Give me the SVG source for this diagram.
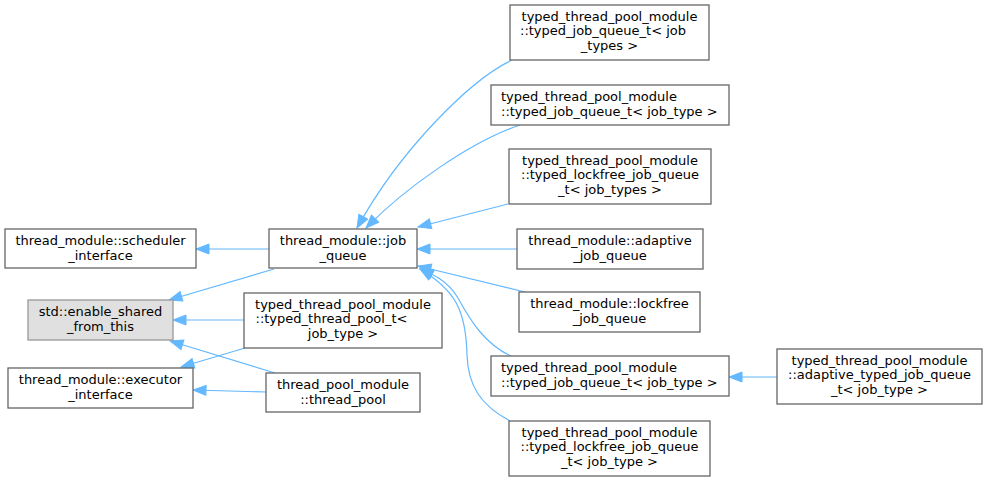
<svg xmlns="http://www.w3.org/2000/svg" width="988" height="481" viewBox="0 0 988 481">
<style>
.n rect{fill:#ffffff;stroke:#666666;stroke-width:1.3}
.n.g rect{fill:#e0e0e0;stroke:#999999}
.n text{font-family:"DejaVu Sans",sans-serif;font-size:13px;fill:#000000;text-anchor:middle}
.n text.l{text-anchor:start}
#edges path{fill:none;stroke:#63b8ff;stroke-width:1.2;marker-end:url(#ah)}
</style>
<defs>
<marker id="ah" markerUnits="userSpaceOnUse" markerWidth="14" markerHeight="12" refX="13" refY="5" orient="auto" overflow="visible">
<path d="M0,0 L13,5 L0,10 z" fill="#63b8ff" stroke="#63b8ff" stroke-width="1"/>
</marker>
</defs>
<rect width="988" height="481" fill="#ffffff"/>
<g id="edges">
<path d="M269,249 L196,249"/>
<path d="M274,269 L169,300"/>
<path d="M244,320 L173,320"/>
<path d="M275,373 L170,341"/>
<path d="M245,348 L181,367"/>
<path d="M266,392 L193,390"/>
<path d="M512,60 C470,80 400,150 357,228"/>
<path d="M520,125 C470,142 405,188 366,228"/>
<path d="M508,204 L418,227"/>
<path d="M517,249 L417,249"/>
<path d="M525,292 L418,266"/>
<path d="M513,357 C485,345 470,320 458,298 C447,280 432,274 420,269"/>
<path d="M510,421 C480,405 468,385 467,355 C466,310 455,290 420,269"/>
<path d="M777,377 L729,377"/>
</g>
<g id="scheduler_interface" class="n"><rect x="5" y="229" width="191" height="39"/><text x="100.5" y="245">thread_module::scheduler</text><text x="100.5" y="259.5">_interface</text></g>
<g id="job_queue" class="n"><rect x="269" y="229" width="148" height="39"/><text x="343" y="245">thread_module::job</text><text x="343" y="259.5">_queue</text></g>
<g id="enable_shared_from_this" class="n g"><rect x="28" y="300" width="145" height="40"/><text x="100.5" y="316">std::enable_shared</text><text x="100.5" y="330.5">_from_this</text></g>
<g id="typed_thread_pool_t" class="n"><rect x="244" y="293" width="198" height="55"/><text x="343" y="308.5">typed_thread_pool_module</text><text class="l" x="255.5" y="323.2">::typed_thread_pool_t&lt;</text><text x="343" y="338">job_type &gt;</text></g>
<g id="executor_interface" class="n"><rect x="8" y="368" width="185" height="40"/><text x="100.5" y="384">thread_module::executor</text><text x="100.5" y="398.5">_interface</text></g>
<g id="thread_pool" class="n"><rect x="266" y="373" width="154" height="39"/><text x="343" y="389">thread_pool_module</text><text x="343" y="403.5">::thread_pool</text></g>
<g id="typed_job_queue_t_job_types" class="n"><rect x="510" y="5" width="199" height="55"/><text x="609.5" y="20.5">typed_thread_pool_module</text><text class="l" x="520" y="35.2">::typed_job_queue_t&lt; job</text><text x="609.5" y="50">_types &gt;</text></g>
<g id="typed_job_queue_t_job_type_1" class="n"><rect x="491" y="85" width="238" height="40"/><text class="l" x="501" y="101">typed_thread_pool_module</text><text class="l" x="501" y="115.5">::typed_job_queue_t&lt; job_type &gt;</text></g>
<g id="typed_lockfree_job_queue_t_job_types" class="n"><rect x="509" y="149" width="202" height="55"/><text x="610" y="164.5">typed_thread_pool_module</text><text x="610" y="179.2">::typed_lockfree_job_queue</text><text x="610" y="194">_t&lt; job_types &gt;</text></g>
<g id="adaptive_job_queue" class="n"><rect x="517" y="229" width="186" height="40"/><text x="610" y="245">thread_module::adaptive</text><text x="610" y="259.5">_job_queue</text></g>
<g id="lockfree_job_queue" class="n"><rect x="519" y="292" width="181" height="40"/><text x="609.5" y="308">thread_module::lockfree</text><text x="609.5" y="322.5">_job_queue</text></g>
<g id="typed_job_queue_t_job_type_2" class="n"><rect x="491" y="356" width="238" height="40"/><text class="l" x="501" y="372">typed_thread_pool_module</text><text class="l" x="501" y="386.5">::typed_job_queue_t&lt; job_type &gt;</text></g>
<g id="adaptive_typed_job_queue_t" class="n"><rect x="777" y="349" width="205" height="55"/><text x="879.5" y="364.5">typed_thread_pool_module</text><text x="879.5" y="379.2">::adaptive_typed_job_queue</text><text x="879.5" y="394">_t&lt; job_type &gt;</text></g>
<g id="typed_lockfree_job_queue_t_job_type" class="n"><rect x="509" y="421" width="201" height="55"/><text x="609.5" y="436.5">typed_thread_pool_module</text><text x="609.5" y="451.2">::typed_lockfree_job_queue</text><text x="609.5" y="466">_t&lt; job_type &gt;</text></g>
</svg>
